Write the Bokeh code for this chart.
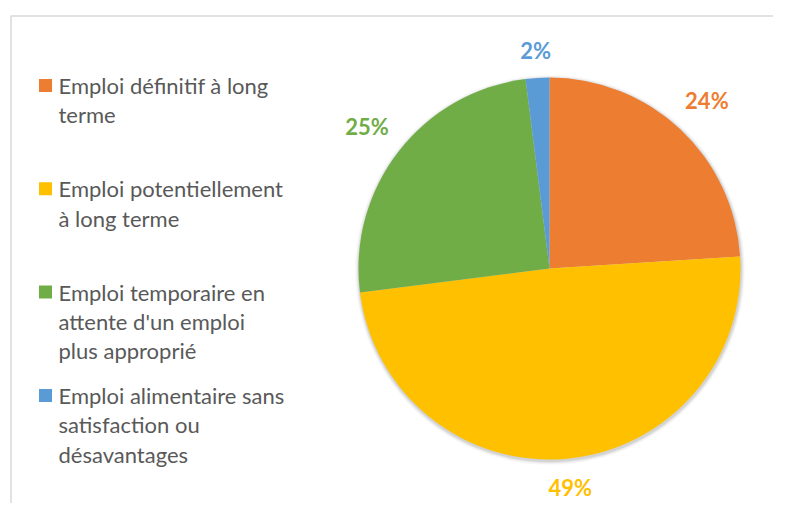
import numpy as np
from bokeh.plotting import figure
from bokeh.models import Range1d
from bokeh.embed import file_html
from bokeh.resources import INLINE
from bokeh.core.properties import value

# ---- data ----
categories = [
    "Emploi définitif à long terme",
    "Emploi potentiellement à long terme",
    "Emploi temporaire en attente d'un emploi plus approprié",
    "Emploi alimentaire sans satisfaction ou désavantages",
]
legend_lines = [
    ["Emploi définitif à long", "terme"],
    ["Emploi potentiellement", "à long terme"],
    ["Emploi temporaire en", "attente d'un emploi", "plus approprié"],
    ["Emploi alimentaire sans", "satisfaction ou", "désavantages"],
]
shares = [24, 49, 25, 2]
pct_labels = ["24%", "49%", "25%", "2%"]
colors = ["#ED7D31", "#FFC000", "#70AD47", "#5B9BD5"]

# ---- layout constants (window pixel coords; data y = -window y) ----
W, H = 773, 503
CX, CY, R = 549, 268, 191
FONT = "Lato"
TEXT_COLOR = "#595959"

p = figure(width=W, height=H, output_backend="svg", toolbar_location=None,
           x_range=Range1d(0, W), y_range=Range1d(-H, 0),
           min_border=0, outline_line_color=None)
p.axis.visible = False
p.grid.visible = False
p.background_fill_color = "white"
p.border_fill_color = "white"

# frame (chart area border, cropped at right/bottom)
p.line([10.5, 10.5, 900], [-900, -15.5, -15.5], line_color="#D9D9D9", line_width=1.5)

# soft shadow
for k, a in [(4, 0.025), (3, 0.035), (2, 0.05), (1, 0.07)]:
    p.circle(x=[CX + 0.5], y=[-(CY + 1.5)], radius=R + k, fill_color="black",
             fill_alpha=a, line_color=None)

# wedges
vals = np.array(shares, dtype=float)
frac = vals / vals.sum()
cum_end = np.cumsum(frac)
cum_start = cum_end - frac
start = np.pi / 2 - 2 * np.pi * cum_start
end = np.pi / 2 - 2 * np.pi * cum_end
p.wedge(x=[CX] * len(vals), y=[-CY] * len(vals), radius=R,
        start_angle=list(start), end_angle=list(end), direction="clock",
        fill_color=colors, line_color=None)

# data labels (outside end)
mid = np.pi / 2 - 2 * np.pi * (cum_start + frac / 2)
gap = 16
lx, ly = [], []
for m, lab in zip(mid, pct_labels):
    dx, dy = np.cos(m), np.sin(m)
    w, h = 14.5 * len(lab), 22
    d = R + gap + abs(dx) * w / 2 + abs(dy) * h / 2
    lx.append(CX + d * dx)
    ly.append(-CY + d * dy)
p.text(x=lx, y=ly, text=pct_labels, text_color=colors, text_font=value(FONT),
       text_font_style="bold", text_font_size="22px", text_align="center",
       text_baseline="middle")

# legend
item_y0, item_step, line_step = 85, 103.3, 29.3
tx, ty, tt = [], [], []
mx, my = [], []
for i, lines in enumerate(legend_lines):
    y0 = item_y0 + i * item_step
    mx.append(45)
    my.append(-y0)
    for j, ln in enumerate(lines):
        tx.append(58)
        ty.append(-(y0 + j * line_step))
        tt.append(ln)
p.scatter(x=mx, y=my, marker="square", size=13, fill_color=colors, line_color=None)
p.text(x=tx, y=ty, text=tt, text_color=TEXT_COLOR, text_font=value(FONT),
       text_font_size="22px", text_align="left", text_baseline="middle")

open("out.html", "w").write(file_html(p, INLINE))
